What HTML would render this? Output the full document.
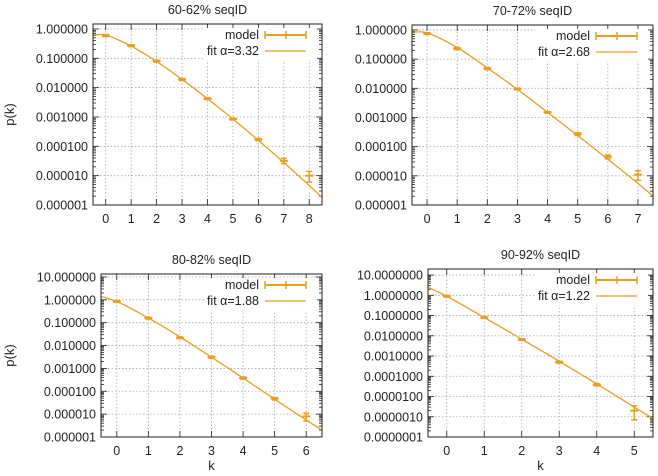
<!DOCTYPE html>
<html><head><meta charset="utf-8"><style>
body{margin:0;background:#fff;}
svg{display:block;font-family:"Liberation Sans",Arial,sans-serif;}
</style></head><body>
<svg id="c" width="658" height="476" viewBox="0 0 658 476"></svg>
<script>
const kA=[0,1,2,3,4,5,6,7,8];
const pA=[0.6,0.27,0.08,0.019,0.0042,0.00085,0.00017,3.2e-5,1.0e-5];
const loA=[0.55,0.25,0.074,0.0175,0.0039,0.00079,0.000155,2.6e-5,6e-6];
const hiA=[0.65,0.29,0.086,0.0205,0.0045,0.00091,0.000185,3.9e-5,1.4e-5];
const fkA=[-0.5,0,1,2,3,4,5,6,7,8,8.5];
const fvA=[0.63,0.62,0.26,0.078,0.019,0.0042,0.00085,0.00016,2.8e-5,4.6e-6,1.8e-6];

const kB=[0,1,2,3,4,5,6,7];
const pB=[0.75,0.23,0.048,0.0095,0.0015,0.00027,4.5e-5,1.1e-5];
const loB=[0.7,0.21,0.044,0.0088,0.0014,0.00024,3.8e-5,7e-6];
const hiB=[0.8,0.25,0.052,0.0102,0.0016,0.0003,5.2e-5,1.5e-5];
const fkB=[-0.5,0,1,2,3,4,5,6,7,7.5];
const fvB=[0.85,0.8,0.25,0.05,0.0092,0.0015,0.00024,3.7e-5,5.5e-6,2e-6];

const kC=[0,1,2,3,4,5,6];
const pC=[0.85,0.16,0.022,0.0031,0.00038,4.8e-5,8e-6];
const loC=[0.78,0.145,0.02,0.0028,0.00034,4.2e-5,5e-6];
const hiC=[0.92,0.175,0.024,0.0034,0.00042,5.4e-5,1.1e-5];
const fkC=[-0.5,0,1,2,3,4,5,6,6.5];
const fvC=[1.4,0.85,0.16,0.024,0.0031,0.00038,4.5e-5,5.5e-6,2e-6];

const kD=[0,1,2,3,4,5];
const pD=[0.9,0.08,0.0065,0.0005,3.8e-5,2e-6];
const loD=[0.82,0.073,0.0059,0.00045,3.3e-5,7e-7];
const hiD=[0.98,0.088,0.0071,0.00055,4.3e-5,3.5e-6];
const fkD=[-0.5,0,1,2,3,4,5,5.5];
const fvD=[2.5,0.9,0.08,0.0068,0.00055,4.2e-5,3.0e-6,8e-7];

const ticksA=["0.000001","0.000010","0.000100","0.001000","0.010000","0.100000","1.000000"];
const ticksC=["0.000001","0.000010","0.000100","0.001000","0.010000","0.100000","1.000000","10.000000"];
const ticksD=["0.0000001","0.0000010","0.0000100","0.0001000","0.0010000","0.0100000","0.1000000","1.0000000","10.0000000"];
const alphas=["3.32","2.68","1.88","1.22"];
const titles=["60-62% seqID","70-72% seqID","80-82% seqID","90-92% seqID"];

const svg=document.getElementById('c');
const NS='http://www.w3.org/2000/svg';
const OR='#e8a020';
const FS=12.5;
function mk(t,a,p){const e=document.createElementNS(NS,t);for(const k in a)e.setAttribute(k,a[k]);(p||svg).appendChild(e);return e;}

function panel(i,box,kmin,kmax,lmin,lmax,ticks,tmin,ks,ps,lo,hi,fk,fv,title,alpha,showK,showP){
  const g=mk('g',{});
  
  
  const [x0,y0,x1,y1]=box;
  const X=k=>x0+(k-kmin)/(kmax-kmin)*(x1-x0);
  const Y=v=>y1-(Math.log10(v)-lmin)/(lmax-lmin)*(y1-y0);
  ticks.forEach((t,j)=>{
    const v=Math.pow(10,tmin+j), y=Y(v);
    if(j>0) mk('line',{x1:x0,x2:x1,y1:y,y2:y,stroke:'#aaa','stroke-width':0.8,'stroke-dasharray':'1.5,2'},g);
    const tx=mk('text',{x:x0-5,y:y+4.5,'text-anchor':'end','font-size':FS,fill:'#222'},g);tx.textContent=t;
    
    
    for(let m=1;m<10;m++){const yy=Y(v*m);if(yy<y0-0.1||yy>y1+0.1)continue;const L=m==1?6:3;
      mk('line',{x1:x0,x2:x0+L,y1:yy,y2:yy,stroke:'#222','stroke-width':0.8},g);
      mk('line',{x1:x1,x2:x1-L,y1:yy,y2:yy,stroke:'#222','stroke-width':0.8},g);}
  });
  for(let k=Math.ceil(kmin);k<=kmax;k++){const x=X(k);
    mk('line',{x1:x,x2:x,y1:y0,y2:y1,stroke:'#aaa','stroke-width':0.8,'stroke-dasharray':'1.5,2'},g);
    mk('line',{x1:x,x2:x,y1:y1,y2:y1-6,stroke:'#222','stroke-width':0.8},g);
    mk('line',{x1:x,x2:x,y1:y0,y2:y0+6,stroke:'#222','stroke-width':0.8},g);
    const tx=mk('text',{x:x,y:y1+18,'text-anchor':'middle','font-size':FS,fill:'#222'},g);tx.textContent=k;
    
    
  }
  mk('rect',{x:x1-118,y:y0+4,width:113,height:32,fill:'#fff'},g);
  let t=mk('text',{x:x1-63,y:y0+15,'text-anchor':'end','font-size':FS,fill:'#222'},g);t.textContent='model';
  
  
  mk('line',{x1:x1-57,x2:x1-16,y1:y0+11,y2:y0+11,stroke:OR,'stroke-width':2},g);
  [x1-57,x1-36,x1-16].forEach(x=>mk('line',{x1:x,x2:x,y1:y0+7,y2:y0+15,stroke:OR,'stroke-width':1.5},g));
  t=mk('text',{x:x1-63,y:y0+31,'text-anchor':'end','font-size':FS,fill:'#222'},g);t.textContent='fit \u03b1='+alpha;
  
  
  mk('line',{x1:x1-57,x2:x1-16,y1:y0+27,y2:y0+27,stroke:OR,'stroke-width':1.2},g);
  const cp=mk('clipPath',{id:'cl'+i},g);mk('rect',{x:x0,y:y0,width:x1-x0,height:y1-y0},cp);
  const Ls=fv.map(v=>Math.log10(v)), n=fk.length;
  const sl=fk.map((k,j)=>{const a=Math.max(0,j-1),b=Math.min(n-1,j+1);return (Ls[b]-Ls[a])/(fk[b]-fk[a]);});
  let d='';
  for(let j=0;j<n-1;j++){const a=fk[j],b=fk[j+1],h=b-a;for(let s=0;s<=10;s++){const u=s/10;
    const h00=2*u*u*u-3*u*u+1,h10=u*u*u-2*u*u+u,h01=-2*u*u*u+3*u*u,h11=u*u*u-u*u;
    const L=h00*Ls[j]+h10*h*sl[j]+h01*Ls[j+1]+h11*h*sl[j+1];
    const x=X(a+h*u),y=Y(Math.pow(10,L));
    d+=(d?'L':'M')+x.toFixed(1)+','+y.toFixed(1);}}
  const fl=mk('path',{d:d,fill:'none',stroke:OR,'stroke-width':1.3,'clip-path':'url(#cl'+i+')'},g);
  
  
  ks.forEach((k,j)=>{const x=X(k),yl=Y(lo[j]),yh=Y(hi[j]),y=Y(ps[j]);
    const pg=mk('g',{},g);
    
    
    mk('line',{x1:x,x2:x,y1:yl,y2:yh,stroke:OR,'stroke-width':1.5},pg);
    mk('line',{x1:x-3,x2:x+3,y1:yl,y2:yl,stroke:OR,'stroke-width':1.5},pg);
    mk('line',{x1:x-3,x2:x+3,y1:yh,y2:yh,stroke:OR,'stroke-width':1.5},pg);
    mk('line',{x1:x-4,x2:x+4,y1:y,y2:y,stroke:OR,'stroke-width':2},pg);
  });
  mk('rect',{x:x0,y:y0,width:x1-x0,height:y1-y0,fill:'none',stroke:'#222','stroke-width':1},g);
  t=mk('text',{x:(x0+x1)/2,y:y0-10,'text-anchor':'middle','font-size':FS,fill:'#222'},g);t.textContent=title;
  
  
  if(showK){t=mk('text',{x:(x0+x1)/2,y:470,'text-anchor':'middle','font-size':13,fill:'#222'},g);t.textContent='k';
    
    }
  if(showP){const cy=(y0+y1)/2;t=mk('text',{x:14,y:cy,'text-anchor':'middle','font-size':13,fill:'#222',transform:'rotate(-90 14 '+cy+')'},g);t.textContent='p(k)';
    
    }
}
panel(0,[93,24,322,205],-0.5,8.5,-6,0.17,ticksA,-6,kA,pA,loA,hiA,fkA,fvA,titles[0],alphas[0],false,true);
panel(1,[412,25,653,205],-0.5,7.5,-6,0.17,ticksA,-6,kB,pB,loB,hiB,fkB,fvB,titles[1],alphas[1],false,false);
panel(2,[101,274,322,437],-0.5,6.5,-6,1.13,ticksC,-6,kC,pC,loC,hiC,fkC,fvC,titles[2],alphas[2],true,true);
panel(3,[428,269,653,437],-0.5,5.5,-7,1.3,ticksD,-7,kD,pD,loD,hiD,fkD,fvD,titles[3],alphas[3],true,false);
</script>
</body></html>
